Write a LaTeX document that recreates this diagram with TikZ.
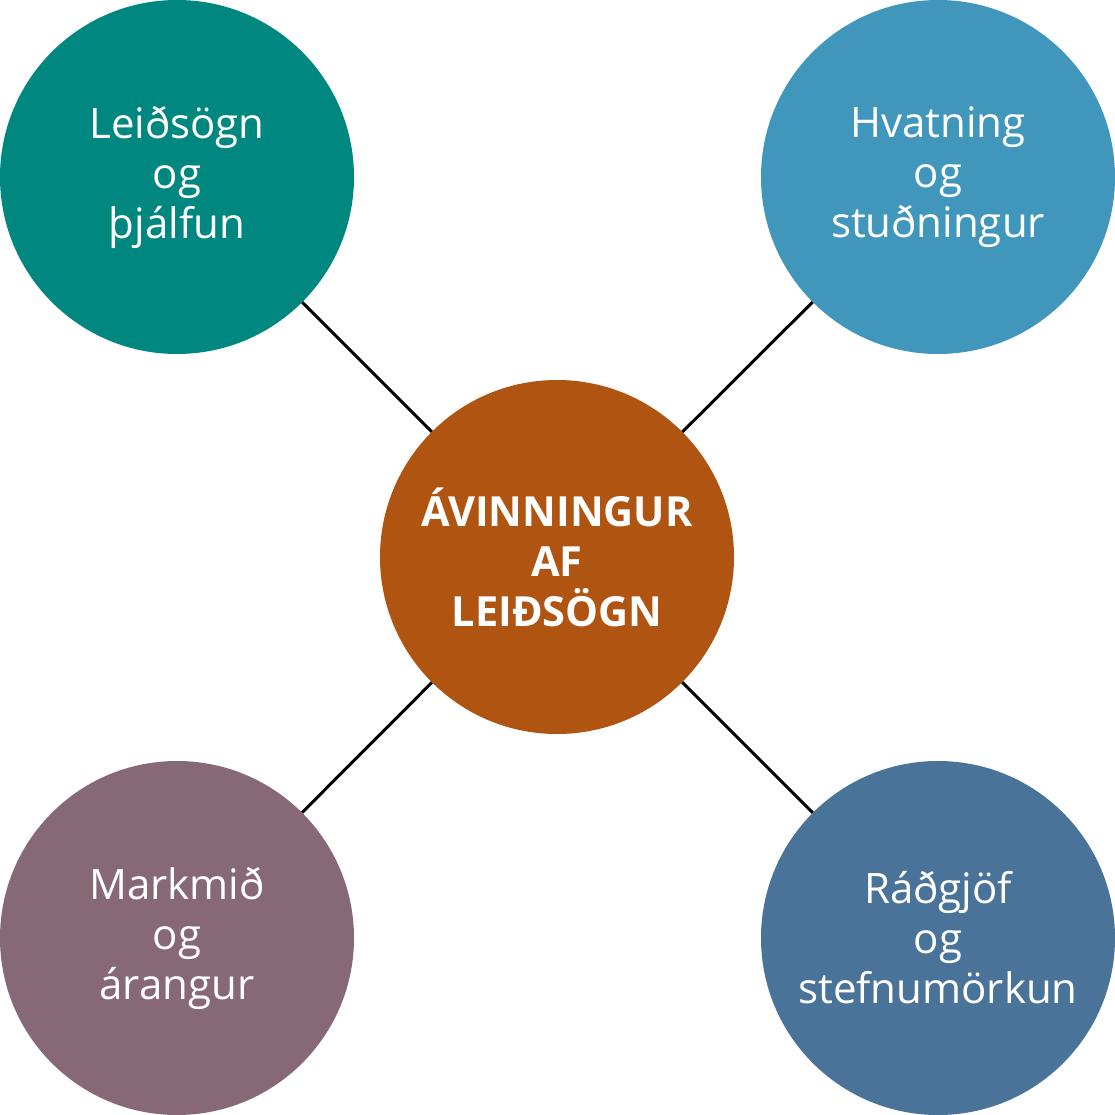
\documentclass[tikz,border=0pt]{standalone}
\usepackage{fontspec}
\setmainfont{Open Sans}
\definecolor{cTL}{HTML}{00877F}
\definecolor{cTR}{HTML}{4097BB}
\definecolor{cBL}{HTML}{866876}
\definecolor{cBR}{HTML}{4A7399}
\definecolor{cC}{HTML}{B05412}
\tikzset{
  bubble/.style={circle, minimum size=354pt, inner sep=0pt, text=white, align=center,
    font=\fontsize{42}{50}\selectfont},
  hub/.style={bubble, font=\fontsize{41.5}{50}\selectfont\bfseries},
  link/.style={line width=3pt, black}
}
\begin{document}
\begin{tikzpicture}[x=1pt,y=-1pt]
\useasboundingbox[fill=white] (0,0) rectangle (1115,1115);
\node[bubble, fill=cTL] (tl) at (177,177) {Leiðsögn\\og\\þjálfun};
\node[bubble, fill=cTR] (tr) at (938,177) {Hvatning\\og\\stuðningur};
\node[bubble, fill=cBL] (bl) at (177,938) {Markmið\\og\\árangur};
\node[bubble, fill=cBR] (br) at (938,938) {Ráðgjöf\\og\\stefnumörkun};
\node[hub, fill=cC] (c) at (557,557) {ÁVINNINGUR\\AF\\LEIÐSÖGN};
\draw[link] (tl) -- (c);
\draw[link] (tr) -- (c);
\draw[link] (bl) -- (c);
\draw[link] (br) -- (c);
\end{tikzpicture}
\end{document}
